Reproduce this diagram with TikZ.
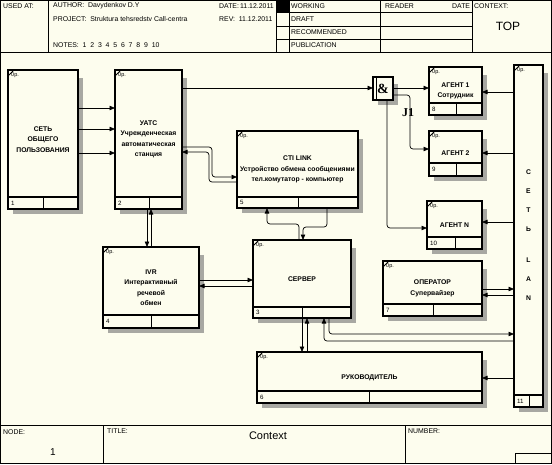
\documentclass[tikz,border=0pt]{standalone}
\usepackage{fontspec}
\setmainfont{Liberation Sans}
\newfontfamily\serifbf{Liberation Serif}
\usetikzlibrary{arrows.meta}
\definecolor{paper}{RGB}{253,253,238}
\definecolor{shadow}{RGB}{168,168,162}
\tikzset{
  fbox/.style={draw, fill=paper, line width=1.1pt, inner sep=0pt, outer sep=0pt, anchor=north west},
  boxtext/.style={font=\fontsize{6.8}{10.5}\selectfont\bfseries, align=center, inner sep=0pt},
  hdrtext/.style={font=\fontsize{6.9}{7}\selectfont, inner sep=0pt, anchor=west},
  optext/.style={font=\fontsize{5.5}{6}\selectfont, inner sep=0pt, anchor=north west},
  numtext/.style={font=\fontsize{6.2}{7}\selectfont, inner sep=0pt, anchor=west},
  lantext/.style={font=\fontsize{6.8}{7}\selectfont\bfseries, inner sep=0pt},
  flow/.style={draw, line width=0.7pt, rounded corners=3pt, -{Triangle[length=5.5pt,width=4.5pt]}},
}
% box: name, x1, y1, x2, y2, row line, cell line, number, text
\newcommand{\idefbox}[9]{%
  \fill[shadow] (#2+5,#3+8) rectangle (#4+5,#5+5);
  \node[fbox, minimum width={#4-#2}, minimum height={#5-#3}] (#1) at (#2,#3) {};
  \draw[line width=1.1pt] (#2,#6) -- (#4,#6);
  \draw[line width=0.8pt] (#7,#6) -- (#7,#5);
  \draw[line width=0.8pt] (#2,#3+6) -- (#2+6,#3);
  \node[optext] (#1o) at (#2+3,#3+2) {0р.};
  \node[numtext] (#1n) at (#2+3,{(#6+#5)/2}) {#8};
  \node[boxtext] (#1t) at (#1) {#9};
}
\begin{document}
\begin{tikzpicture}[x=1pt,y=-1pt]
\useasboundingbox (0,0) rectangle (552,464);
\fill[paper] (0,0) rectangle (552,464);
\draw[line width=1pt] (0.5,0.5) rectangle (551.5,463.5);

% header
\draw[line width=0.9pt] (0,52) -- (552,52);
\draw (48,0) -- (48,52);
\draw (276,0) -- (276,52);
\draw (289,0) -- (289,52);
\draw (380,0) -- (380,52);
\draw (472,0) -- (472,52);
\draw (276,12.5) -- (472,12.5);
\draw (276,26) -- (472,26);
\draw (276,39) -- (472,39);
\fill (276,0) rectangle (289,12.5);
\node[hdrtext] (usedat) at (3,6) {USED AT:};
\node[hdrtext] (author) at (53,6) {AUTHOR:\ \ Davydenkov D.Y};
\node[hdrtext] (project) at (53,19) {PROJECT:\ \ Struktura tehsredstv Call-centra};
\node[hdrtext] (notes) at (53,45) {NOTES:\ \ 1\ \ 2\ \ 3\ \ 4\ \ 5\ \ 6\ \ 7\ \ 8\ \ 9\ \ 10};
\node[hdrtext] (date) at (219,6) {DATE:\,11.12.2011};
\node[hdrtext] (rev) at (219,19) {REV:\ \ 11.12.2011};
\node[hdrtext] (working) at (291,6) {WORKING};
\node[hdrtext] (draft) at (291,19) {DRAFT};
\node[hdrtext] (recom) at (291,32.5) {RECOMMENDED};
\node[hdrtext] (public) at (291,45.5) {PUBLICATION};
\node[hdrtext] (reader) at (385,6) {READER};
\node[hdrtext] (rdate) at (452,6) {DATE};
\node[hdrtext] (context) at (474,6) {CONTEXT:};
\node[font=\fontsize{12}{14}\selectfont] (top) at (508,26) {TOP};

% footer
\draw (0,425) -- (552,425);
\draw (103,425) -- (103,464);
\draw (405,425) -- (405,464);
\draw (515,453) -- (515,464);
\draw (515,453) -- (552,453);
\node[hdrtext] (nodelbl) at (3,432) {NODE:};
\node[font=\fontsize{10}{12}\selectfont] (nodenum) at (53,452) {1};
\node[hdrtext] (titlelbl) at (107,431) {TITLE:};
\node[font=\fontsize{11}{13}\selectfont] (title) at (268,436) {Context};
\node[hdrtext] (numlbl) at (408,431) {NUMBER:};

% boxes
\idefbox{b1}{8}{70}{78}{209}{197}{43}{1}{СЕТЬ\\ОБЩЕГО\\ПОЛЬЗОВАНИЯ}
\idefbox{b2}{115}{70}{182}{209}{197}{149}{2}{УАТС\\Учрежденческая\\автоматическая\\станция}
\idefbox{b5}{237}{131}{358}{208}{197}{298}{5}{CTI LINK\\Устройство обмена сообщениями\\тел.комутатор - компьютер}
\idefbox{b8}{429}{67}{482}{115}{103}{456}{8}{АГЕНТ 1\\Сотрудник}
\idefbox{b9}{429}{131}{482}{176}{163}{456}{9}{АГЕНТ 2}
\idefbox{b10}{427}{201}{482}{249}{237}{455}{10}{АГЕНТ N}
\idefbox{b7}{383}{261}{482}{316}{304}{433}{7}{ОПЕРАТОР\\Супервайзер}
\idefbox{b4}{103}{247}{199}{328}{315}{151}{4}{IVR\\Интерактивный\\речевой\\обмен}
\idefbox{b3}{253}{240}{351}{318}{307}{302}{3}{СЕРВЕР}
\idefbox{b6}{257}{352}{482}{403}{391}{369}{6}{РУКОВОДИТЕЛЬ}
\idefbox{b11}{514}{65}{543}{407}{395}{529}{11}{}
\foreach \ch/\yy in {С/172,Е/191,Т/210,Ь/229,L/260,A/279,N/298}
  \node[lantext] (lan\yy) at (528.5,\yy) {\ch};

% junction
\fill[shadow] (378,84) rectangle (398,105);
\node[fbox, minimum width=20, minimum height=23] (j1) at (373,77) {};
\draw[line width=0.8pt] (376.5,77) -- (376.5,100);
\node[font=\serifbf\bfseries\fontsize{14}{14}\selectfont, inner sep=0pt] (amp) at (j1) {\&};
\node[font=\serifbf\bfseries\fontsize{12}{12}\selectfont, inner sep=0pt] (j1lbl) at (408,113) {J1};

% connectors
\draw[flow] (b1.east |- 0,108) -- (b2.west |- 0,108);
\draw[flow] (b1.east |- 0,129) -- (b2.west |- 0,129);
\draw[flow] (b1.east |- 0,153) -- (b2.west |- 0,153);
\draw[flow] (b2.east |- 0,88) -- (j1.west |- 0,88);
\draw[flow] (j1.east |- 0,88) -- (b8.west |- 0,88);
\draw[flow] (j1.east |- 0,95) -| (410,149) -- (b9.west |- 0,149);
\draw[flow] (387,0 |- j1.south) |- (b10.west |- 0,228);
\draw[flow] (b11.west |- 0,92) -- (b8.east |- 0,92);
\draw[flow] (b11.west |- 0,153) -- (b9.east |- 0,153);
\draw[flow] (b11.west |- 0,222) -- (b10.east |- 0,222);
\draw[flow] (b7.east |- 0,289) -- (b11.west |- 0,289);
\draw[flow] (b11.west |- 0,295) -- (b7.east |- 0,295);
\draw[flow] (b11.west |- 0,378) -- (b6.east |- 0,378);
\draw[flow] (329,0 |- b3.south) |- (b11.west |- 0,334);
\draw[flow] (b11.west |- 0,341) -| (324,0 |- b3.south);
\draw[flow] (302,0 |- b3.south) -- (302,0 |- b6.north);
\draw[flow] (307,0 |- b6.north) -- (307,0 |- b3.south);
\draw[flow] (299,0 |- b3.north) -- (299,224) -| (267,0 |- b5.south);
\draw[flow] (327,0 |- b5.south) -- (327,227) -| (303,0 |- b3.north);
\draw[flow] (147,0 |- b2.south) -- (147,0 |- b4.north);
\draw[flow] (151,0 |- b4.north) -- (151,0 |- b2.south);
\draw[flow] (b4.east |- 0,280) -- (b3.west |- 0,280);
\draw[flow] (b3.west |- 0,286) -- (b4.east |- 0,286);
\draw[flow] (b2.east |- 0,147) -- (212,147) |- (b5.west |- 0,177);
\draw[flow] (b5.west |- 0,182) -| (209,152) -- (b2.east |- 0,152);
\end{tikzpicture}
\end{document}
